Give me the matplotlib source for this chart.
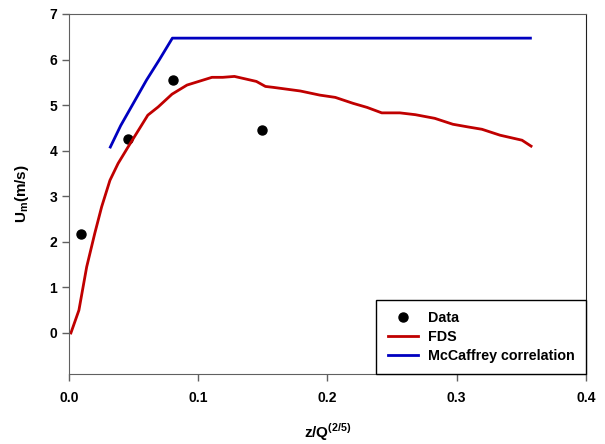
import matplotlib.pyplot as plt

plt.rcParams['font.family'] = ['Liberation Sans', 'DejaVu Sans']
plt.rcParams['font.weight'] = 'bold'
plt.rcParams['mathtext.fontset'] = 'custom'
plt.rcParams['mathtext.rm'] = 'Liberation Sans:bold'
plt.rcParams['mathtext.bf'] = 'Liberation Sans:bold'

# measured data
data_x = [0.0093, 0.0457, 0.0805, 0.149]
data_y = [2.17, 4.25, 5.55, 4.45]

# FDS prediction
fds_x = [0.0015, 0.0077, 0.0137, 0.020, 0.0253, 0.0317, 0.038, 0.0457, 0.061, 0.069,
         0.0797, 0.0913, 0.1106, 0.119, 0.128, 0.145, 0.152, 0.158, 0.179, 0.194,
         0.206, 0.2197, 0.2306, 0.242, 0.256, 0.268, 0.283, 0.297, 0.309, 0.3195,
         0.3335, 0.3505, 0.3575]
fds_y = [0.0, 0.5, 1.45, 2.19, 2.77, 3.35, 3.72, 4.08, 4.78, 4.96,
         5.24, 5.44, 5.61, 5.61, 5.63, 5.52, 5.41, 5.39, 5.31, 5.22,
         5.17, 5.04, 4.95, 4.83, 4.83, 4.79, 4.71, 4.58, 4.52, 4.47,
         4.34, 4.23, 4.10]

# McCaffrey correlation
mcc_x = [0.032, 0.040, 0.050, 0.060, 0.070, 0.080, 0.357]
mcc_y = [4.08, 4.55, 5.05, 5.55, 6.00, 6.47, 6.47]

fig = plt.figure(figsize=(6.05, 4.44), dpi=100)
ax = fig.add_axes([0.114, 0.1577, 0.8546, 0.8108])

ax.plot(data_x, data_y, 'o', color='black', ms=6.5, label='Data')
ax.plot(fds_x, fds_y, color='#c00000', lw=2, label='FDS')
ax.plot(mcc_x, mcc_y, color='#0000c0', lw=2, label='McCaffrey correlation')

ax.set_xlim(0, 0.4)
ax.set_ylim(-0.9, 7)
ax.set_xticks([0.0, 0.1, 0.2, 0.3, 0.4])
ax.set_xticklabels(['0.0', '0.1', '0.2', '0.3', '0.4'])
ax.set_yticks(range(0, 8))
ax.tick_params(direction='out', length=5, width=1, color='#606060',
               labelsize=10, top=False, right=False)
ax.tick_params(axis='x', pad=7)
for lab in ax.get_xticklabels() + ax.get_yticklabels():
    lab.set_fontweight('bold')

ax.spines['left'].set_color('#606060')
ax.spines['bottom'].set_color('#606060')
ax.spines['top'].set_color('#606060')
ax.spines['right'].set_color('#202020')

ax.set_xlabel('z/Q$^{\\mathbf{(2/5)}}$', fontsize=11, fontweight='bold', labelpad=12)
ax.set_ylabel('U$_{\\mathbf{m}}$(m/s)', fontsize=11, fontweight='bold', labelpad=13)

leg = ax.legend(loc='lower right', borderaxespad=0, fancybox=False,
                edgecolor='black', fontsize=10.3, handlelength=2.1,
                handletextpad=0.7, labelspacing=0.32, borderpad=0.8,
                framealpha=1)
leg.get_frame().set_linewidth(1)
for t in leg.get_texts():
    t.set_fontweight('bold')

fig.savefig('out.png', dpi=100)
